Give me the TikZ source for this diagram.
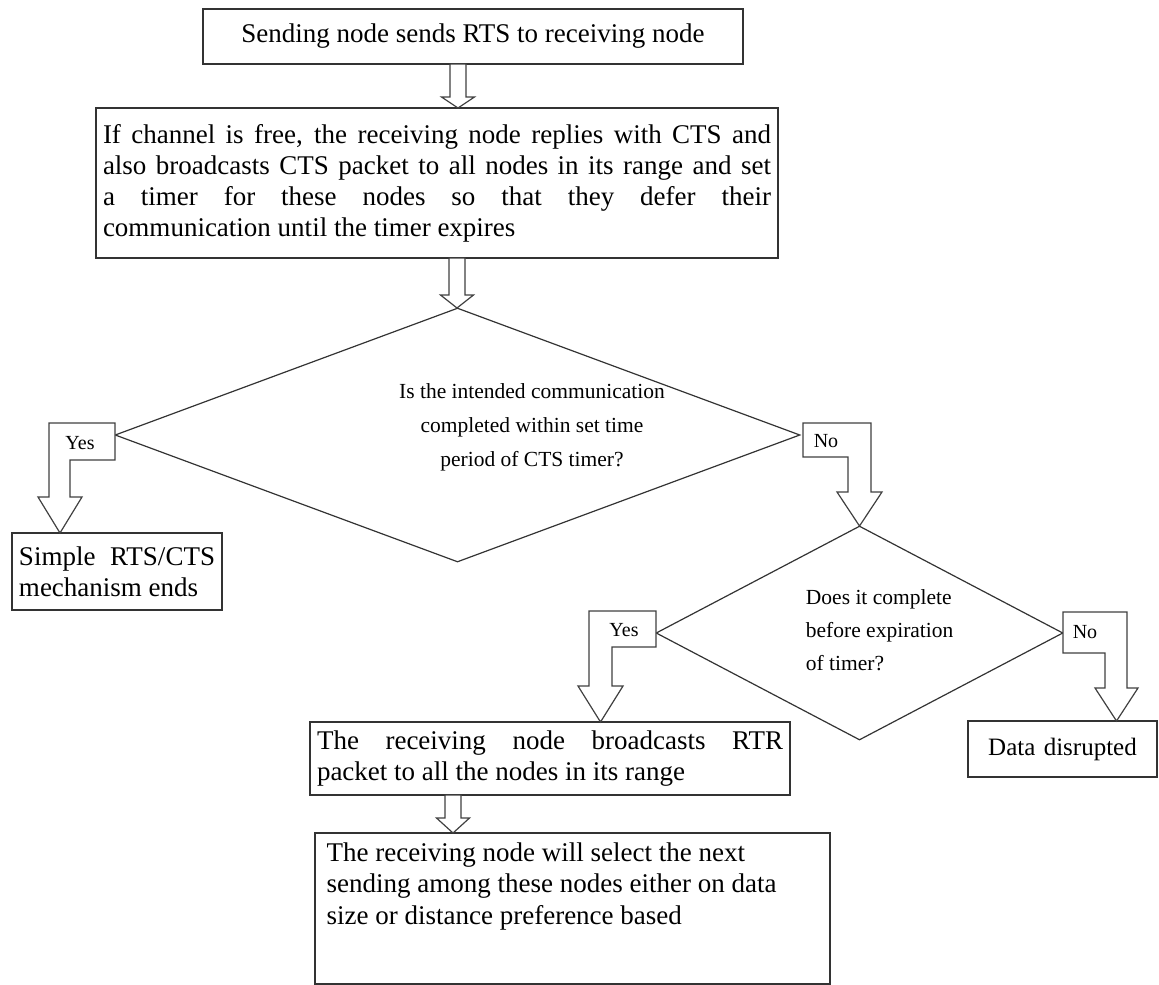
\documentclass[tikz,border=0pt]{standalone}
\usepackage{fontspec}
\setmainfont{Liberation Serif}
\usetikzlibrary{shapes.geometric}
\newcommand\downblock[4]{\draw[barrow] (#1-8,#2) -- (#1+8,#2) -- (#1+8,#3) -- (#1+16.5,#3) -- (#1,#4) -- (#1-16.5,#3) -- (#1-8,#3) -- cycle;}
\begin{document}
\begin{tikzpicture}[x=1pt,y=-1pt,line width=1.2pt]
\tikzset{
 box/.style={draw=black!80, rectangle, inner xsep=7pt, inner ysep=0pt, font=\fontsize{27}{31}\selectfont, align=justify},
 dia/.style={draw=black!80, diamond, inner sep=0pt},
 dtext/.style={font=\fontsize{21.5}{34}\selectfont},
 lbl/.style={font=\fontsize{20}{24}\selectfont},
 barrow/.style={draw=black!75, fill=white, line join=miter},
}
\useasboundingbox (0,0) rectangle (1159,985);

\node[box, minimum width=540, minimum height=55, align=center] (b1) at (473,36.5) {Sending node sends RTS to receiving node};

\node[box, text width=668, minimum height=150] (b2) at (437,183) {If channel is free, the receiving node replies with CTS and\linebreak also broadcasts CTS packet to all nodes in its range and set\linebreak a timer for these nodes so that they defer their\linebreak communication until the timer expires};

\node[dia, minimum width=685, minimum height=254] (d1) at (457.5,435) {};
\node[dtext, align=center] (d1t) at (532,427) {Is the intended communication\\completed within set time\\period of CTS timer?};

\node[box, text width=196, minimum height=77] (b3) at (117,571.5) {Simple RTS/CTS\linebreak mechanism ends};

\node[dia, minimum width=407, minimum height=214] (d2) at (859.5,633) {};
\node[dtext, font=\fontsize{21.5}{33}\selectfont, align=left, anchor=west] (d2t) at (802,630) {Does it complete\\before expiration\\of timer?};

\node[box, text width=466, minimum height=73] (b4) at (550,758.5) {The receiving node broadcasts RTR\linebreak packet to all the nodes in its range};

\node[box, font=\fontsize{25}{31}\selectfont, text width=175, minimum height=56, align=center] (b5) at (1062.5,749) {Data disrupted};

\node[draw=black!80, rectangle, minimum width=515, minimum height=151, inner sep=0pt] (b6) at (572.5,908.5) {};
\node[font=\fontsize{27}{31.5}\selectfont, align=left, anchor=north west, inner sep=0pt] (b6t) at (326,842) {The receiving node will select the next\\sending among these nodes either on data\\size or distance preference based};

% straight block arrows
\downblock{458}{64}{97}{108}
\downblock{457}{258}{295}{308}
\downblock{453}{795}{818}{833}

% bent block arrows
\draw[barrow] (115,423) -- (49,423) -- (49,497) -- (38,497) -- (60,533) -- (82,497) -- (70,497) -- (70,460) -- (115,460) -- cycle;
\node[lbl] (y1) at (80,443) {Yes};

\draw[barrow] (803,423) -- (871,423) -- (871,492) -- (882,492) -- (859.5,526) -- (837,492) -- (848,492) -- (848,457) -- (803,457) -- cycle;
\node[lbl] (n1) at (826,441) {No};

\draw[barrow] (656,611) -- (589,611) -- (589,686) -- (578,686) -- (600.5,722) -- (623,686) -- (612,686) -- (612,647) -- (656,647) -- cycle;
\node[lbl] (y2) at (624,630) {Yes};

\draw[barrow] (1063,612) -- (1127,612) -- (1127,688) -- (1138,688) -- (1116.5,721) -- (1095,688) -- (1105,688) -- (1105,653) -- (1063,653) -- cycle;
\node[lbl] (n2) at (1085,632) {No};
\end{tikzpicture}
\end{document}
